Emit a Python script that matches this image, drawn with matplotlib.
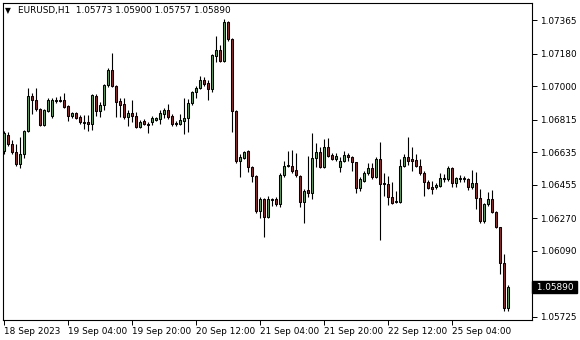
import matplotlib
matplotlib.use("Agg")
import matplotlib.pyplot as plt
from matplotlib.patches import Rectangle
from matplotlib.transforms import blended_transform_factory

symbol = "EURUSD,H1"

opens = [1.06642, 1.06730, 1.06680, 1.06636, 1.06570, 1.06625, 1.06752, 1.06945, 1.06923, 1.06874,
         1.06785, 1.06862, 1.06835, 1.06918, 1.06923, 1.06923, 1.06890, 1.06835, 1.06851, 1.06829,
         1.06796, 1.06802, 1.06791, 1.06945, 1.06862, 1.06896, 1.07006, 1.07089, 1.07001, 1.06918,
         1.06901, 1.06829, 1.06851, 1.06835, 1.06774, 1.06807, 1.06791, 1.06802, 1.06813, 1.06818,
         1.06846, 1.06868, 1.06835, 1.06796, 1.06791, 1.06807, 1.06824, 1.06907, 1.06967, 1.06990,
         1.07034, 1.07017, 1.06984, 1.07166, 1.07199, 1.07139, 1.07354, 1.07260, 1.06862, 1.06586,
         1.06603, 1.06642, 1.06553, 1.06504, 1.06310, 1.06377, 1.06277, 1.06371, 1.06377, 1.06349,
         1.06509, 1.06559, 1.06559, 1.06537, 1.06504, 1.06360, 1.06426, 1.06410, 1.06603, 1.06636,
         1.06553, 1.06664, 1.06620, 1.06597, 1.06553, 1.06586, 1.06620, 1.06608, 1.06581, 1.06437,
         1.06476, 1.06520, 1.06548, 1.06498, 1.06597, 1.06465, 1.06459, 1.06388, 1.06360, 1.06360,
         1.06559, 1.06608, 1.06597, 1.06592, 1.06559, 1.06520, 1.06470, 1.06443, 1.06443, 1.06448,
         1.06487, 1.06487, 1.06548, 1.06465, 1.06487, 1.06487, 1.06487, 1.06443, 1.06465, 1.06382,
         1.06255, 1.06349, 1.06377, 1.06305, 1.06222, 1.06023, 1.05773]
highs = [1.06752, 1.06747, 1.06702, 1.06680, 1.06719, 1.06758, 1.06990, 1.06962, 1.06990, 1.06879,
         1.06874, 1.06934, 1.06934, 1.06940, 1.06945, 1.06962, 1.06896, 1.06857, 1.06857, 1.06840,
         1.06840, 1.06840, 1.06956, 1.06956, 1.06912, 1.07012, 1.07100, 1.07183, 1.07006, 1.06934,
         1.06934, 1.06868, 1.06923, 1.06857, 1.06813, 1.06818, 1.06802, 1.06835, 1.06829, 1.06868,
         1.06879, 1.06901, 1.06846, 1.06807, 1.06846, 1.06934, 1.06929, 1.06973, 1.07001, 1.07056,
         1.07050, 1.07034, 1.07177, 1.07277, 1.07227, 1.07371, 1.07359, 1.07266, 1.06868, 1.06625,
         1.06642, 1.06647, 1.06559, 1.06509, 1.06388, 1.06382, 1.06393, 1.06382, 1.06388, 1.06520,
         1.06586, 1.06642, 1.06647, 1.06631, 1.06509, 1.06432, 1.06614, 1.06741, 1.06686, 1.06664,
         1.06708, 1.06713, 1.06631, 1.06631, 1.06608, 1.06642, 1.06631, 1.06614, 1.06581, 1.06498,
         1.06531, 1.06575, 1.06575, 1.06608, 1.06691, 1.06520, 1.06504, 1.06470, 1.06421, 1.06597,
         1.06625, 1.06719, 1.06664, 1.06625, 1.06597, 1.06531, 1.06481, 1.06476, 1.06465, 1.06520,
         1.06515, 1.06559, 1.06553, 1.06498, 1.06509, 1.06504, 1.06493, 1.06537, 1.06526, 1.06432,
         1.06354, 1.06415, 1.06426, 1.06310, 1.06222, 1.06073, 1.05900]
lows = [1.06625, 1.06669, 1.06625, 1.06559, 1.06548, 1.06603, 1.06747, 1.06846, 1.06862, 1.06780,
        1.06780, 1.06857, 1.06824, 1.06907, 1.06912, 1.06879, 1.06807, 1.06824, 1.06818, 1.06791,
        1.06763, 1.06752, 1.06758, 1.06835, 1.06829, 1.06868, 1.06995, 1.06995, 1.06829, 1.06829,
        1.06818, 1.06780, 1.06802, 1.06769, 1.06769, 1.06785, 1.06741, 1.06785, 1.06807, 1.06791,
        1.06824, 1.06818, 1.06780, 1.06780, 1.06785, 1.06735, 1.06747, 1.06896, 1.06934, 1.06984,
        1.07001, 1.06923, 1.06967, 1.07133, 1.07133, 1.07133, 1.07249, 1.06747, 1.06575, 1.06498,
        1.06597, 1.06526, 1.06470, 1.06299, 1.06272, 1.06167, 1.06272, 1.06338, 1.06338, 1.06332,
        1.06498, 1.06553, 1.06520, 1.06498, 1.06332, 1.06244, 1.06388, 1.06377, 1.06553, 1.06548,
        1.06548, 1.06608, 1.06592, 1.06586, 1.06526, 1.06581, 1.06586, 1.06531, 1.06410, 1.06421,
        1.06470, 1.06509, 1.06487, 1.06493, 1.06150, 1.06393, 1.06343, 1.06349, 1.06354, 1.06354,
        1.06553, 1.06564, 1.06531, 1.06553, 1.06509, 1.06393, 1.06432, 1.06404, 1.06432, 1.06443,
        1.06470, 1.06476, 1.06443, 1.06443, 1.06470, 1.06470, 1.06426, 1.06432, 1.06321, 1.06244,
        1.06244, 1.06338, 1.06299, 1.06216, 1.05962, 1.05755, 1.05757]
closes = [1.06741, 1.06680, 1.06636, 1.06570, 1.06625, 1.06752, 1.06945, 1.06923, 1.06874, 1.06785,
          1.06868, 1.06923, 1.06923, 1.06923, 1.06918, 1.06885, 1.06835, 1.06851, 1.06824, 1.06802,
          1.06802, 1.06791, 1.06951, 1.06862, 1.06896, 1.07006, 1.07089, 1.07001, 1.06912, 1.06896,
          1.06829, 1.06851, 1.06835, 1.06774, 1.06802, 1.06791, 1.06785, 1.06824, 1.06824, 1.06851,
          1.06868, 1.06829, 1.06791, 1.06791, 1.06813, 1.06824, 1.06907, 1.06967, 1.06990, 1.07034,
          1.07012, 1.06984, 1.07172, 1.07199, 1.07139, 1.07354, 1.07260, 1.06862, 1.06586, 1.06608,
          1.06636, 1.06553, 1.06504, 1.06310, 1.06377, 1.06277, 1.06377, 1.06377, 1.06349, 1.06509,
          1.06559, 1.06564, 1.06531, 1.06509, 1.06360, 1.06421, 1.06410, 1.06603, 1.06636, 1.06553,
          1.06664, 1.06614, 1.06597, 1.06614, 1.06586, 1.06620, 1.06608, 1.06581, 1.06437, 1.06487,
          1.06520, 1.06548, 1.06498, 1.06597, 1.06459, 1.06459, 1.06388, 1.06354, 1.06366, 1.06559,
          1.06608, 1.06586, 1.06586, 1.06559, 1.06520, 1.06470, 1.06437, 1.06432, 1.06454, 1.06493,
          1.06493, 1.06548, 1.06465, 1.06493, 1.06493, 1.06493, 1.06443, 1.06465, 1.06382, 1.06255,
          1.06349, 1.06377, 1.06305, 1.06222, 1.06023, 1.05773, 1.05890]

time_tick_bars = [0, 16, 32, 48, 64, 80, 96, 112]
time_tick_labels = ["18 Sep 2023", "19 Sep 04:00", "19 Sep 20:00", "20 Sep 12:00",
                    "21 Sep 04:00", "21 Sep 20:00", "22 Sep 12:00", "25 Sep 04:00"]
price_ticks = [1.07365, 1.07180, 1.07000, 1.06815, 1.06635, 1.06455, 1.06270, 1.06090, 1.05725]

UP = "#3cb43c"
DOWN = "#d01010"
FONT = "DejaVu Sans"
FS = 6.4

W, H = 580, 340
fig = plt.figure(figsize=(W / 100, H / 100), dpi=100)
fig.patch.set_facecolor("white")
left, right, top, bottom = 2.5, 532.0, 3.0, 320.0
ax = fig.add_axes([left / W, 1 - bottom / H, (right - left) / W, (bottom - top) / H])

n = len(closes)
for i in range(n):
    o, h, l, c = opens[i], highs[i], lows[i], closes[i]
    ax.plot([i, i], [l, h], color="black", lw=0.8, solid_capstyle="butt", zorder=2)
    col = UP if c >= o else DOWN
    ax.add_patch(Rectangle((i - 0.25, min(o, c)), 0.5, abs(c - o),
                           facecolor=col, edgecolor="black", lw=0.75, zorder=3))

ax.set_xlim(-0.25, 132.1)
ax.set_ylim(1.05708, 1.07459)

for s in ax.spines.values():
    s.set_color("black")
    s.set_linewidth(0.8)

ax.yaxis.tick_right()
ax.set_yticks(price_ticks)
ax.set_yticklabels([f"{p:.5f}" for p in price_ticks], fontsize=FS, family=FONT)
ax.tick_params(axis="y", direction="out", length=3.5, width=0.7, pad=2.5, colors="black")

ax.set_xticks(time_tick_bars)
ax.set_xticklabels(time_tick_labels, fontsize=FS, family=FONT, ha="left")
ax.tick_params(axis="x", direction="out", length=3.5, width=0.7, pad=1.5, colors="black")
for lab in ax.get_xticklabels():
    lab.set_horizontalalignment("left")

# current price label
tr = blended_transform_factory(ax.transAxes, ax.transData)
ax.text(1.003, closes[-1], " " + f"{closes[-1]:.5f}" + " ", transform=tr, fontsize=FS, family=FONT,
        color="white", ha="left", va="center",
        bbox=dict(boxstyle="square,pad=0.15", facecolor="black", edgecolor="black"), zorder=10, clip_on=False)

# header
fig.text(5 / W, 1 - 11 / H, "\u25BC", fontsize=5.5, family=FONT, color="black", ha="left", va="center")
fig.text(18 / W, 1 - 11 / H,
         f"{symbol}  {opens[-1]:.5f} {highs[-1]:.5f} {lows[-1]:.5f} {closes[-1]:.5f}",
         fontsize=FS, family=FONT, color="black", ha="left", va="center")

fig.savefig("out.png", dpi=100, facecolor="white")
